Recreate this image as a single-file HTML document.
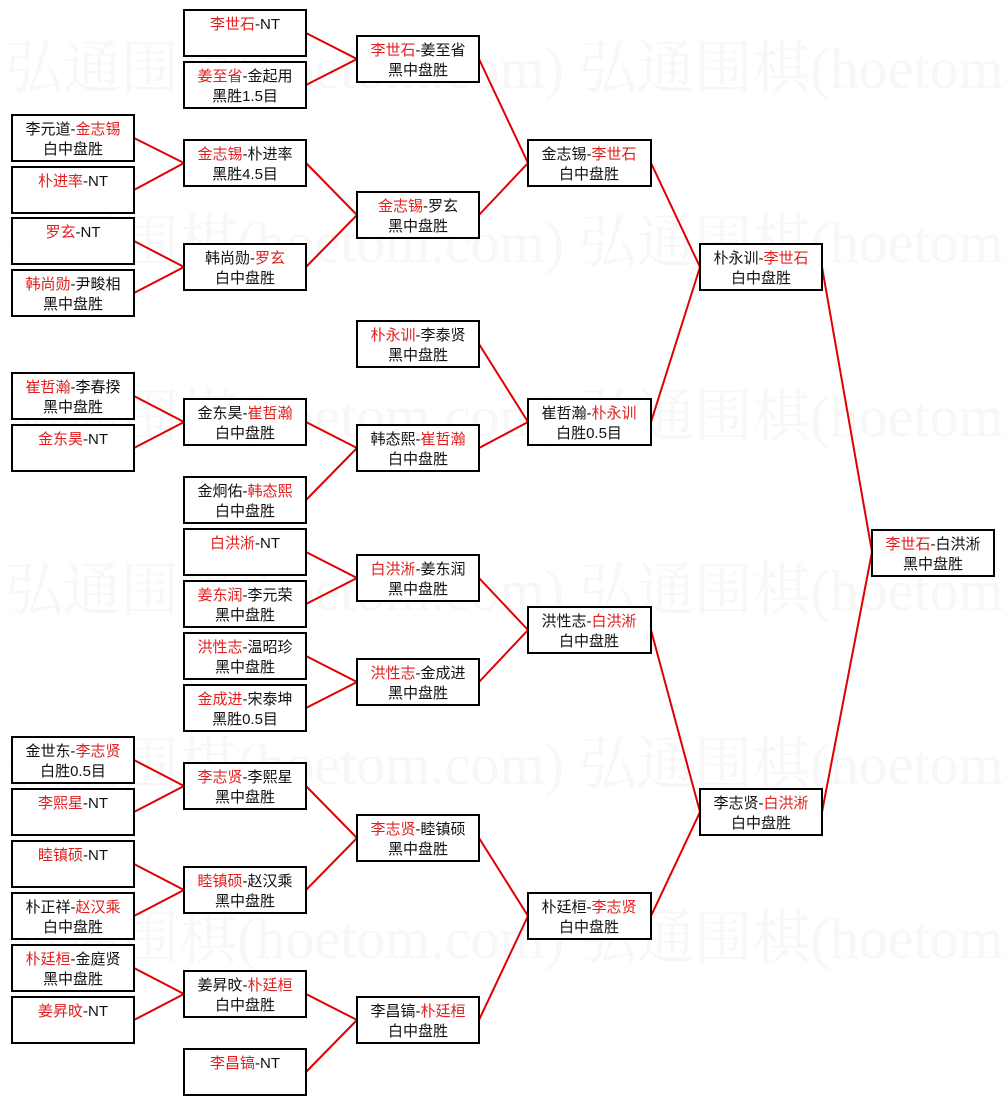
<!DOCTYPE html>
<html><head><meta charset="utf-8"><style>
html,body{margin:0;padding:0;background:#fff;width:1005px;height:1105px;overflow:hidden}
svg{display:block}
.wm{font-family:"Liberation Serif","Noto Serif CJK SC",serif;font-size:58px;fill:#f7f7f7}
.b{fill:#fff;stroke:#000;stroke-width:2}
.t{font-family:"Liberation Sans","Noto Sans CJK SC",sans-serif;font-size:15px;fill:#111;text-anchor:middle}
.r{fill:#e02020}
.l{stroke:#e00000;stroke-width:2;fill:none}
</style></head><body>
<svg width="1005" height="1105" xmlns="http://www.w3.org/2000/svg">
<g class="wm">
<text x="5" y="88">弘通围棋(hoetom.com) 弘通围棋(hoetom.com)</text>
<text x="5" y="262">弘通围棋(hoetom.com) 弘通围棋(hoetom.com)</text>
<text x="5" y="436">弘通围棋(hoetom.com) 弘通围棋(hoetom.com)</text>
<text x="5" y="610">弘通围棋(hoetom.com) 弘通围棋(hoetom.com)</text>
<text x="5" y="784">弘通围棋(hoetom.com) 弘通围棋(hoetom.com)</text>
<text x="5" y="958">弘通围棋(hoetom.com) 弘通围棋(hoetom.com)</text>
</g>
<g class="l">
<path d="M134 138 L184 163 L134 190"/>
<path d="M134 241 L184 267 L134 293"/>
<path d="M134 396 L184 422 L134 448"/>
<path d="M134 760 L184 786 L134 812"/>
<path d="M134 864 L184 890 L134 916"/>
<path d="M134 968 L184 994 L134 1020"/>
<path d="M306 33 L357 59 L306 85"/>
<path d="M306 163 L357 215 L306 267"/>
<path d="M306 422 L357 448 L306 500"/>
<path d="M306 552 L357 578 L306 604"/>
<path d="M306 656 L357 682 L306 708"/>
<path d="M306 786 L357 838 L306 890"/>
<path d="M306 994 L357 1020 L306 1072"/>
<path d="M479 59 L528 163 L479 215"/>
<path d="M479 344 L528 422 L479 448"/>
<path d="M479 578 L528 630 L479 682"/>
<path d="M479 838 L528 916 L479 1020"/>
<path d="M651 163 L700 267 L651 422"/>
<path d="M651 630 L700 812 L651 916"/>
<path d="M822 267 L872 552 L822 812"/>
</g>
<rect class="b" x="12" y="115" width="122" height="46"/><text class="t" x="73" y="134">李元道-<tspan class="r">金志锡</tspan></text><text class="t" x="73" y="154">白中盘胜</text>
<rect class="b" x="12" y="167" width="122" height="46"/><text class="t" x="73" y="186"><tspan class="r">朴进率</tspan>-NT</text>
<rect class="b" x="12" y="218" width="122" height="46"/><text class="t" x="73" y="237"><tspan class="r">罗玄</tspan>-NT</text>
<rect class="b" x="12" y="270" width="122" height="46"/><text class="t" x="73" y="289"><tspan class="r">韩尚勋</tspan>-尹畯相</text><text class="t" x="73" y="309">黑中盘胜</text>
<rect class="b" x="12" y="373" width="122" height="46"/><text class="t" x="73" y="392"><tspan class="r">崔哲瀚</tspan>-李春揆</text><text class="t" x="73" y="412">黑中盘胜</text>
<rect class="b" x="12" y="425" width="122" height="46"/><text class="t" x="73" y="444"><tspan class="r">金东昊</tspan>-NT</text>
<rect class="b" x="12" y="737" width="122" height="46"/><text class="t" x="73" y="756">金世东-<tspan class="r">李志贤</tspan></text><text class="t" x="73" y="776">白胜0.5目</text>
<rect class="b" x="12" y="789" width="122" height="46"/><text class="t" x="73" y="808"><tspan class="r">李熙星</tspan>-NT</text>
<rect class="b" x="12" y="841" width="122" height="46"/><text class="t" x="73" y="860"><tspan class="r">睦镇硕</tspan>-NT</text>
<rect class="b" x="12" y="893" width="122" height="46"/><text class="t" x="73" y="912">朴正祥-<tspan class="r">赵汉乘</tspan></text><text class="t" x="73" y="932">白中盘胜</text>
<rect class="b" x="12" y="945" width="122" height="46"/><text class="t" x="73" y="964"><tspan class="r">朴廷桓</tspan>-金庭贤</text><text class="t" x="73" y="984">黑中盘胜</text>
<rect class="b" x="12" y="997" width="122" height="46"/><text class="t" x="73" y="1016"><tspan class="r">姜昇旼</tspan>-NT</text>
<rect class="b" x="184" y="10" width="122" height="46"/><text class="t" x="245" y="29"><tspan class="r">李世石</tspan>-NT</text>
<rect class="b" x="184" y="62" width="122" height="46"/><text class="t" x="245" y="81"><tspan class="r">姜至省</tspan>-金起用</text><text class="t" x="245" y="101">黑胜1.5目</text>
<rect class="b" x="184" y="140" width="122" height="46"/><text class="t" x="245" y="159"><tspan class="r">金志锡</tspan>-朴进率</text><text class="t" x="245" y="179">黑胜4.5目</text>
<rect class="b" x="184" y="244" width="122" height="46"/><text class="t" x="245" y="263">韩尚勋-<tspan class="r">罗玄</tspan></text><text class="t" x="245" y="283">白中盘胜</text>
<rect class="b" x="184" y="399" width="122" height="46"/><text class="t" x="245" y="418">金东昊-<tspan class="r">崔哲瀚</tspan></text><text class="t" x="245" y="438">白中盘胜</text>
<rect class="b" x="184" y="477" width="122" height="46"/><text class="t" x="245" y="496">金炯佑-<tspan class="r">韩态熙</tspan></text><text class="t" x="245" y="516">白中盘胜</text>
<rect class="b" x="184" y="529" width="122" height="46"/><text class="t" x="245" y="548"><tspan class="r">白洪淅</tspan>-NT</text>
<rect class="b" x="184" y="581" width="122" height="46"/><text class="t" x="245" y="600"><tspan class="r">姜东润</tspan>-李元荣</text><text class="t" x="245" y="620">黑中盘胜</text>
<rect class="b" x="184" y="633" width="122" height="46"/><text class="t" x="245" y="652"><tspan class="r">洪性志</tspan>-温昭珍</text><text class="t" x="245" y="672">黑中盘胜</text>
<rect class="b" x="184" y="685" width="122" height="46"/><text class="t" x="245" y="704"><tspan class="r">金成进</tspan>-宋泰坤</text><text class="t" x="245" y="724">黑胜0.5目</text>
<rect class="b" x="184" y="763" width="122" height="46"/><text class="t" x="245" y="782"><tspan class="r">李志贤</tspan>-李熙星</text><text class="t" x="245" y="802">黑中盘胜</text>
<rect class="b" x="184" y="867" width="122" height="46"/><text class="t" x="245" y="886"><tspan class="r">睦镇硕</tspan>-赵汉乘</text><text class="t" x="245" y="906">黑中盘胜</text>
<rect class="b" x="184" y="971" width="122" height="46"/><text class="t" x="245" y="990">姜昇旼-<tspan class="r">朴廷桓</tspan></text><text class="t" x="245" y="1010">白中盘胜</text>
<rect class="b" x="184" y="1049" width="122" height="46"/><text class="t" x="245" y="1068"><tspan class="r">李昌镐</tspan>-NT</text>
<rect class="b" x="357" y="36" width="122" height="46"/><text class="t" x="418" y="55"><tspan class="r">李世石</tspan>-姜至省</text><text class="t" x="418" y="75">黑中盘胜</text>
<rect class="b" x="357" y="192" width="122" height="46"/><text class="t" x="418" y="211"><tspan class="r">金志锡</tspan>-罗玄</text><text class="t" x="418" y="231">黑中盘胜</text>
<rect class="b" x="357" y="321" width="122" height="46"/><text class="t" x="418" y="340"><tspan class="r">朴永训</tspan>-李泰贤</text><text class="t" x="418" y="360">黑中盘胜</text>
<rect class="b" x="357" y="425" width="122" height="46"/><text class="t" x="418" y="444">韩态熙-<tspan class="r">崔哲瀚</tspan></text><text class="t" x="418" y="464">白中盘胜</text>
<rect class="b" x="357" y="555" width="122" height="46"/><text class="t" x="418" y="574"><tspan class="r">白洪淅</tspan>-姜东润</text><text class="t" x="418" y="594">黑中盘胜</text>
<rect class="b" x="357" y="659" width="122" height="46"/><text class="t" x="418" y="678"><tspan class="r">洪性志</tspan>-金成进</text><text class="t" x="418" y="698">黑中盘胜</text>
<rect class="b" x="357" y="815" width="122" height="46"/><text class="t" x="418" y="834"><tspan class="r">李志贤</tspan>-睦镇硕</text><text class="t" x="418" y="854">黑中盘胜</text>
<rect class="b" x="357" y="997" width="122" height="46"/><text class="t" x="418" y="1016">李昌镐-<tspan class="r">朴廷桓</tspan></text><text class="t" x="418" y="1036">白中盘胜</text>
<rect class="b" x="528" y="140" width="123" height="46"/><text class="t" x="589" y="159">金志锡-<tspan class="r">李世石</tspan></text><text class="t" x="589" y="179">白中盘胜</text>
<rect class="b" x="528" y="399" width="123" height="46"/><text class="t" x="589" y="418">崔哲瀚-<tspan class="r">朴永训</tspan></text><text class="t" x="589" y="438">白胜0.5目</text>
<rect class="b" x="528" y="607" width="123" height="46"/><text class="t" x="589" y="626">洪性志-<tspan class="r">白洪淅</tspan></text><text class="t" x="589" y="646">白中盘胜</text>
<rect class="b" x="528" y="893" width="123" height="46"/><text class="t" x="589" y="912">朴廷桓-<tspan class="r">李志贤</tspan></text><text class="t" x="589" y="932">白中盘胜</text>
<rect class="b" x="700" y="244" width="122" height="46"/><text class="t" x="761" y="263">朴永训-<tspan class="r">李世石</tspan></text><text class="t" x="761" y="283">白中盘胜</text>
<rect class="b" x="700" y="789" width="122" height="46"/><text class="t" x="761" y="808">李志贤-<tspan class="r">白洪淅</tspan></text><text class="t" x="761" y="828">白中盘胜</text>
<rect class="b" x="872" y="530" width="122" height="46"/><text class="t" x="933" y="549"><tspan class="r">李世石</tspan>-白洪淅</text><text class="t" x="933" y="569">黑中盘胜</text>
</svg>
</body></html>
